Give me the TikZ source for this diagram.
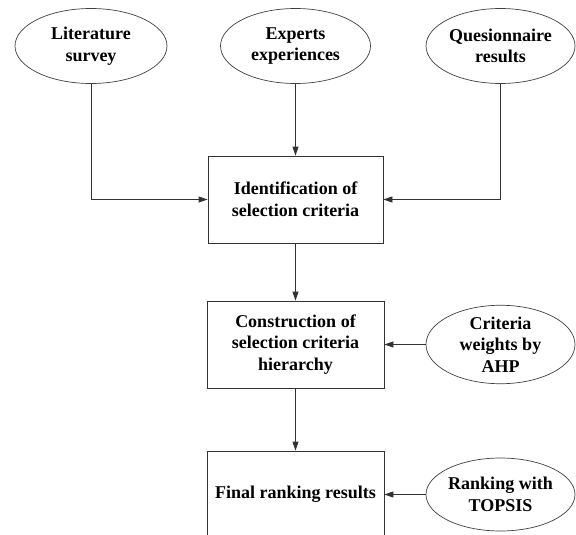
\documentclass[tikz,border=0pt]{standalone}
\usepackage{fontspec}
\setmainfont{Liberation Serif}
\usetikzlibrary{shapes.geometric,arrows.meta}
\begin{document}
\begin{tikzpicture}[x=1pt,y=-1pt,
  txt/.style={font=\fontsize{18}{21.5}\selectfont\bfseries, align=center, text=black},
  oval/.style={txt, ellipse, draw=black!75, line width=0.7pt, fill=white, minimum width=150pt, minimum height=75pt, inner sep=0pt},
  stepbox/.style={txt, rectangle, draw=black!80, line width=0.8pt, fill=white, minimum width=176pt, minimum height=87pt, inner sep=0pt},
  conn/.style={draw=black!80, line width=0.8pt, -{Triangle[length=9pt,width=6pt]}}
]
\useasboundingbox (0,0) rectangle (576,535);
\node[oval, minimum width=152pt] (lit) at (91,46) {Literature\\survey};
\node[oval] (exp) at (295.5,46) {Experts\\experiences};
\node[oval, minimum width=149pt] (que) at (500.5,46) {Quesionnaire\\results};
\node[stepbox, minimum width=175pt] (b1) at (295.5,199.5) {Identification of\\selection criteria};
\node[stepbox, minimum width=177pt] (b2) at (295.5,344.5) {Construction of\\selection criteria\\hierarchy};
\node[stepbox, minimum width=177pt] (b3) at (295.5,494.5) {Final ranking results};
\node[oval, minimum width=149pt] (crit) at (500.5,344.5) {Criteria\\weights by\\AHP};
\node[oval, minimum width=149pt, minimum height=73pt] (rank) at (500.5,494.5) {Ranking with\\TOPSIS};
\draw[conn] (lit.south) |- (b1.west);
\draw[conn] (exp.south) -- (b1.north);
\draw[conn] (que.south) |- (b1.east);
\draw[conn] (b1.south) -- (b2.north);
\draw[conn] (b2.south) -- (b3.north);
\draw[conn] (crit.west) -- (b2.east);
\draw[conn] (rank.west) -- (b3.east);
\end{tikzpicture}
\end{document}
